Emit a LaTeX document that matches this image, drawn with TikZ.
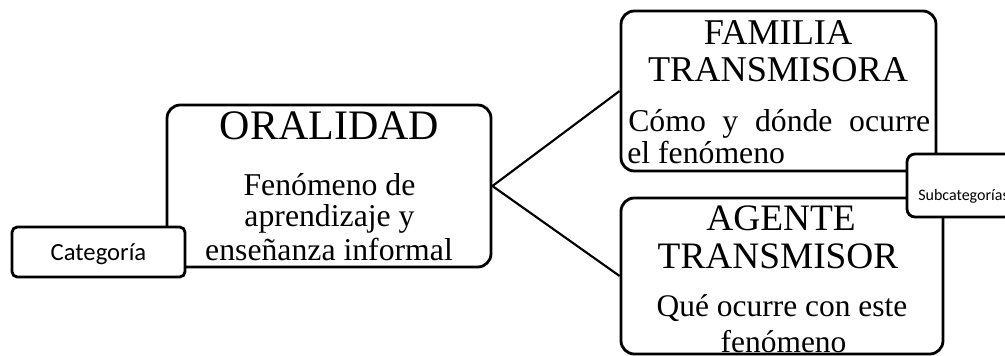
\documentclass[tikz,border=0pt]{standalone}
\usepackage{fontspec}
\setmainfont{Liberation Serif}
\newfontfamily\calib{Carlito}
\begin{document}
\begin{tikzpicture}[x=0.75pt,y=-0.75pt,
  bigbox/.style={draw, line width=2.1pt, rounded corners=10pt, fill=white, inner sep=0pt},
  tagbox/.style={draw, line width=2.1pt, rounded corners=4pt, fill=white, inner sep=0pt},
  txt/.style={inner sep=0pt, anchor=base},
  conn/.style={line width=1.6pt}]
\useasboundingbox (0,0) rectangle (1005,356);
% boxes
\node[bigbox, minimum width=243pt, minimum height=121.5pt] (oral) at (329,186) {};
\node[bigbox, minimum width=236.25pt, minimum height=120pt] (fam) at (778.5,91) {};
\node[bigbox, minimum width=241.5pt, minimum height=117pt] (agent) at (782,276) {};
% connectors
\draw[conn] (fam.west) -- (oral.east) -- (agent.west);
% tag boxes
\node[tagbox, minimum width=129.75pt, minimum height=37.5pt] (cat) at (98.5,252) {};
\node[tagbox, rounded corners=6pt, minimum width=90pt, minimum height=47.25pt] (sub) at (967,185.5) {};
% texts
\node[txt] (t1) at (329.5,140) {\fontsize{31.5}{32}\selectfont ORALIDAD};
\node[txt] (t2) at (329.5,195) {\fontsize{23.8}{24}\selectfont Fenómeno de};
\node[txt] (t3) at (329.5,226.7) {\fontsize{23.8}{24}\selectfont aprendizaje y};
\node[txt] (t4) at (329,260) {\fontsize{23.8}{24}\selectfont enseñanza informal};
\node[txt] (t5) at (778,45) {\fontsize{27.2}{28}\selectfont FAMILIA};
\node[txt] (t6) at (778,82) {\fontsize{27.2}{28}\selectfont TRANSMISORA};
\node[txt, anchor=base west] (t7) at (628,131.7) {\fontsize{23.8}{24}\selectfont\makebox[226.5pt][s]{Cómo y dónde ocurre}};
\node[txt, anchor=base west] (t8) at (627,163.3) {\fontsize{23.8}{24}\selectfont el fenómeno};
\node[txt] (t9) at (781,230) {\fontsize{28}{28}\selectfont AGENTE};
\node[txt] (t10) at (778,268.3) {\fontsize{28}{28}\selectfont TRANSMISOR};
\node[txt] (t11) at (782,316) {\fontsize{23.6}{24}\selectfont Qué ocurre con este};
\node[txt] (t12) at (783.5,352) {\fontsize{23.6}{24}\selectfont fenómeno};
\node[txt] (t13) at (98.5,260) {\calib\fontsize{18.5}{20}\selectfont Categoría};
\node[txt, anchor=base west] (t14) at (918,200) {\calib\fontsize{12}{13}\selectfont Subcategorías};
\end{tikzpicture}
\end{document}
